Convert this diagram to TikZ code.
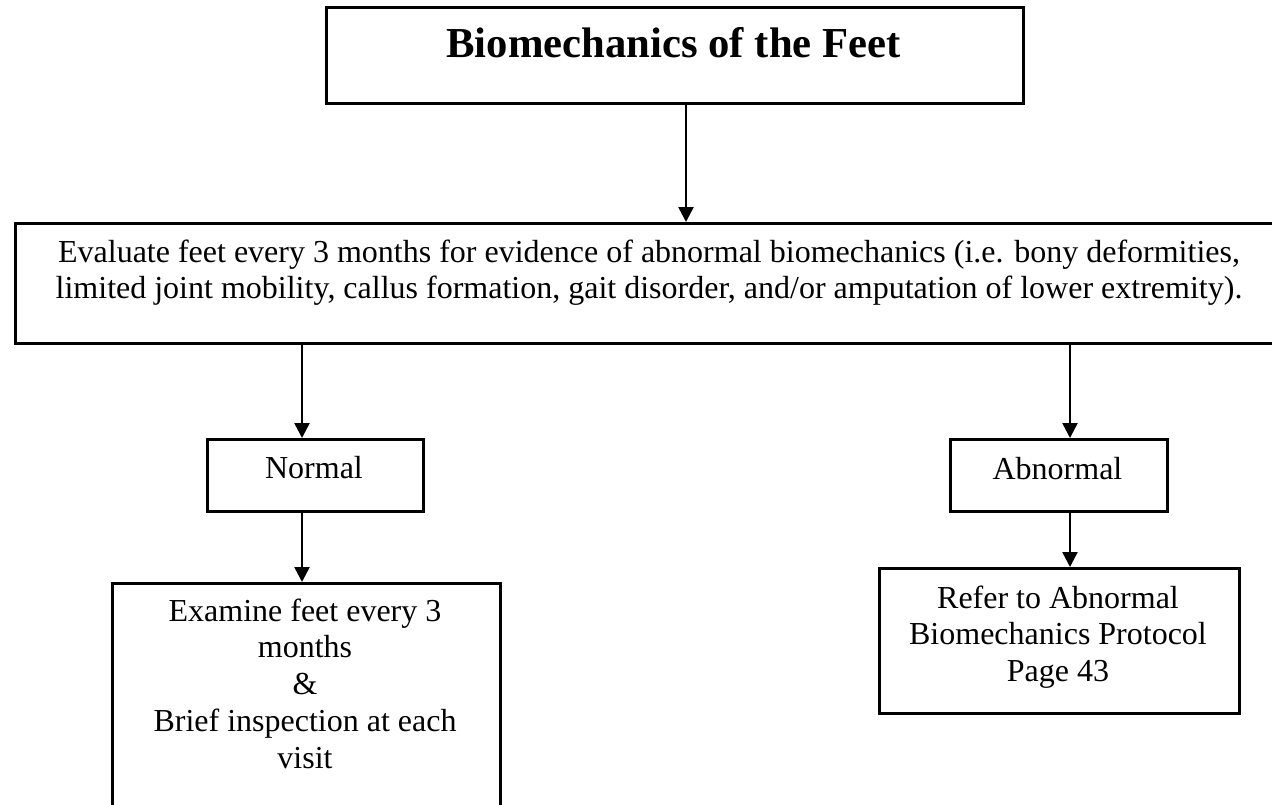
\documentclass[tikz,border=0pt]{standalone}
\usepackage{fontspec}
\setmainfont{Liberation Serif}
\usetikzlibrary{arrows.meta}
\begin{document}
\begin{tikzpicture}[x=1pt,y=-1pt,
  box/.style={draw=black, line width=2.6pt, inner sep=0pt, anchor=north west},
  body/.style={font=\fontsize{32}{36.8}\selectfont, inner sep=0pt, align=center},
  heading/.style={font=\fontsize{42.7}{49}\selectfont\bfseries, inner sep=0pt},
  conn/.style={line width=2.4pt, -{Triangle[length=15pt,width=15pt]}},
]
\clip (0,0) rectangle (1272,804);
\fill[white] (0,0) rectangle (1272,804);

% boxes
\node[box, minimum width=697pt, minimum height=96pt]  (title)    at (325,6)   {};
\node[box, minimum width=1270pt, minimum height=120pt] (evaluate) at (14,222)  {};
\node[box, minimum width=216pt, minimum height=72pt]  (normal)   at (206,438) {};
\node[box, minimum width=217pt, minimum height=72pt]  (abnormal) at (949,438) {};
\node[box, minimum width=388pt, minimum height=258pt] (examine)  at (111,582) {};
\node[box, minimum width=360pt, minimum height=145pt] (refer)    at (878,567) {};

% texts
\node[heading, anchor=base] (titletext) at (673.5,57) {Biomechanics of the Feet};
\node[body, anchor=north] (evaltext) at (649,236.2)
  {\strut Evaluate feet every 3 months for evidence of abnormal biomechanics (i.e. bony deformities,\\
   limited joint mobility, callus formation, gait disorder, and/or amputation of lower extremity).};
\node[body, anchor=base] (normaltext) at (314,478) {Normal};
\node[body, anchor=base] (abnormaltext) at (1057.5,479) {Abnormal};
\node[body, anchor=north] (examinetext) at (305,595.2)
  {\strut Examine feet every 3\\ months\\ \&\\ Brief inspection at each\\ visit};
\node[body, anchor=north] (refertext) at (1058,582.2)
  {\strut Refer to Abnormal\\ Biomechanics Protocol\\ Page 43};

% connector columns
\coordinate (colmid)   at (686,0);
\coordinate (colleft)  at (302,0);
\coordinate (colright) at (1070,0);

% connectors
\draw[conn] (title.south -| colmid) -- (evaluate.north -| colmid);
\draw[conn] (evaluate.south -| colleft) -- (normal.north -| colleft);
\draw[conn] (evaluate.south -| colright) -- (abnormal.north -| colright);
\draw[conn] (normal.south -| colleft) -- (examine.north -| colleft);
\draw[conn] (abnormal.south -| colright) -- (refer.north -| colright);
\end{tikzpicture}
\end{document}
